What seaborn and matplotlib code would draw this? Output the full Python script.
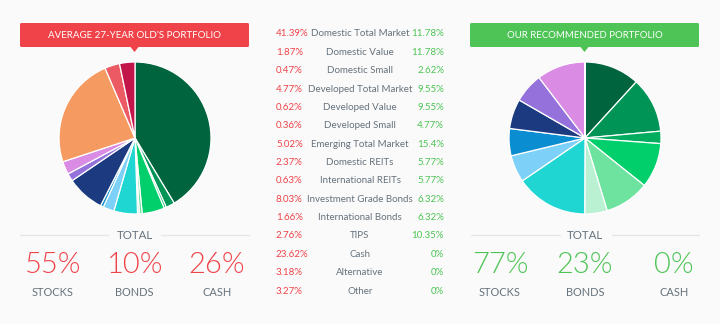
import matplotlib
matplotlib.use("Agg")
import matplotlib.pyplot as plt
from matplotlib.patches import FancyBboxPatch, Polygon
import seaborn as sns

sns.set_theme(style="white")
plt.rcParams['font.family'] = ['Lato', 'DejaVu Sans']

categories = ["Domestic Total Market", "Domestic Value", "Domestic Small",
              "Developed Total Market", "Developed Value", "Developed Small",
              "Emerging Total Market", "Domestic REITs", "International REITs",
              "Investment Grade Bonds", "International Bonds", "TIPS",
              "Cash", "Alternative", "Other"]
avg_values = [41.39, 1.87, 0.47, 4.77, 0.62, 0.36, 5.02, 2.37, 0.63, 8.03,
              1.66, 2.76, 23.62, 3.18, 3.27]
avg_labels = ["41.39%", "1.87%", "0.47%", "4.77%", "0.62%", "0.36%", "5.02%",
              "2.37%", "0.63%", "8.03%", "1.66%", "2.76%", "23.62%", "3.18%", "3.27%"]
rec_values = [11.78, 11.78, 2.62, 9.55, 9.55, 4.77, 15.4, 5.77, 5.77, 6.32,
              6.32, 10.35, 0, 0, 0]
rec_labels = ["11.78%", "11.78%", "2.62%", "9.55%", "9.55%", "4.77%", "15.4%",
              "5.77%", "5.77%", "6.32%", "6.32%", "10.35%", "0%", "0%", "0%"]
slice_colors = ["#00643f", "#009456", "#00ad5f", "#00cf6c", "#6ee29f", "#b9f1d2",
                "#1fd6d3", "#7dd0f7", "#0a8ed1", "#1b3a80", "#9571dc", "#da8be4",
                "#f59b61", "#ec5b63", "#c2164b"]
total_groups = ["STOCKS", "BONDS", "CASH"]
avg_totals = ["55%", "10%", "26%"]
rec_totals = ["77%", "23%", "0%"]
titles = ["AVERAGE 27-YEAR OLD'S PORTFOLIO", "OUR RECOMMENDED PORTFOLIO"]

RED = "#ef4349"
GREEN = "#4dc455"
GRAY = "#66727c"
BG = "#fafafa"

W, H = 720, 324
fig = plt.figure(figsize=(7.2, 3.24), dpi=100, facecolor=BG)

# overlay axes in pixel coordinates
ov = fig.add_axes([0, 0, 1, 1])
ov.set_xlim(0, W)
ov.set_ylim(H, 0)
ov.axis("off")
ov.set_facecolor(BG)

def pie_axes(cx, cy, r):
    return fig.add_axes([(cx - r) / W, (H - cy - r) / H, 2 * r / W, 2 * r / H])

for (cx, values) in [(135, avg_values), (585, rec_values)]:
    ax = pie_axes(cx, 138, 76)
    ax.pie(values, colors=slice_colors, startangle=90, counterclock=False,
           wedgeprops=dict(edgecolor="white", linewidth=0.9))
    ax.set_xlim(-1.0, 1.0)
    ax.set_ylim(-1.0, 1.0)
    ax.set_aspect("equal")
    ax.axis("off")

# banners
for (x0, x1, col, title, fs) in [(20, 249, RED, titles[0], 7.0),
                                 (470, 699, GREEN, titles[1], 6.95)]:
    ov.add_patch(FancyBboxPatch((x0 + 1.5, 24.5), x1 - x0 - 3, 21,
                                boxstyle="round,pad=1.5", fc=col, ec="none"))
    cx = (x0 + x1) / 2
    ov.add_patch(Polygon([[cx - 4, 47], [cx + 4, 47], [cx, 52]], closed=True,
                         fc=col, ec="none"))
    ov.text(cx, 35.5, title, color="white", fontsize=fs, ha="center", va="center")

# totals
for (cx, l0, l1, r0, r1, vals, col, xs) in [
        (135, 20, 108, 161, 249, avg_totals, RED, [53, 134, 217]),
        (585, 471, 560, 612, 699, rec_totals, GREEN, [500, 585, 674])]:
    ov.plot([l0, l1], [235, 235], color="#e6e6e6", lw=1)
    ov.plot([r0, r1], [235, 235], color="#e6e6e6", lw=1)
    ov.text(cx, 235.5, "TOTAL", color=GRAY, fontsize=8.3, ha="center", va="center")
    for x, v, g in zip(xs, vals, total_groups):
        ov.text(x, 265, v, color=col, fontsize=21, ha="center", va="center",
                fontweight=300)
        ov.text(x, 292, g, color=GRAY, fontsize=7.9, ha="center", va="center")

# middle table
n = len(categories)
for i in range(n):
    y = 34 + i * (291 - 34) / (n - 1)
    ov.text(276, y, avg_labels[i], color=RED, fontsize=7.0, ha="left", va="center")
    ov.text(360, y, categories[i], color=GRAY, fontsize=7.0, ha="center", va="center")
    ov.text(444, y, rec_labels[i], color=GREEN, fontsize=7.0, ha="right", va="center")

fig.savefig("out.png", dpi=100, facecolor=BG)
